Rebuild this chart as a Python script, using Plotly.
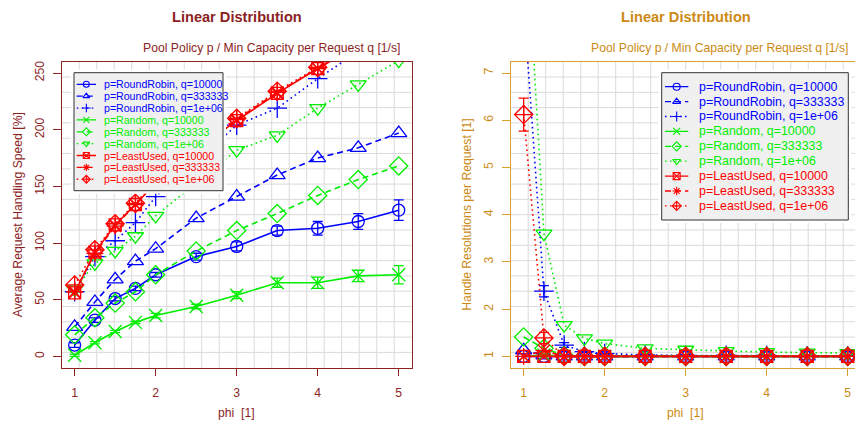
import plotly.graph_objects as go

W, H = 855, 423

# ---------------- data ----------------
phi = [1, 1.25, 1.5, 1.75, 2, 2.5, 3, 3.5, 4, 4.5, 5]
x_ticks = [1, 2, 3, 4, 5]
speed_ticks = [0, 50, 100, 150, 200, 250]
resol_ticks = [1, 2, 3, 4, 5, 6, 7]

series_names = [
    "p=RoundRobin, q=10000", "p=RoundRobin, q=333333", "p=RoundRobin, q=1e+06",
    "p=Random, q=10000", "p=Random, q=333333", "p=Random, q=1e+06",
    "p=LeastUsed, q=10000", "p=LeastUsed, q=333333", "p=LeastUsed, q=1e+06",
]

# Average Request Handling Speed [%]
speed_rr_10000 = [10, 32, 51, 60, 72, 88, 97, 111, 113, 119, 129]
speed_rr_333333 = [26, 48, 68, 84, 95, 122, 141, 160, 175, 184, 197]
speed_rr_1e6 = [57, 88, 102, 118, 141, 172, 204, 219, 245, 269, 290]
speed_rand_10000 = [1, 12, 22, 30, 36, 44, 54, 65, 65, 71, 72]
speed_rand_333333 = [19, 34, 47, 57, 72, 93, 111, 126, 142, 156, 168]
speed_rand_1e6 = [59, 82, 93, 106, 124, 153, 182, 195, 219, 240, 261]
speed_lu_10000 = [56, 92, 116, 134, 153, 182, 208, 232, 254, 275, 295]
speed_lu_333333 = [57, 91, 115, 134, 154, 183, 209, 233, 254, 276, 296]
speed_lu_1e6 = [63, 94, 117, 135, 155, 184, 210, 234, 255, 277, 297]

speed_err_rr_10000 = [2, 2, 2, 2, 2, 3, 4, 4, 6, 7, 9]
speed_err_rand_10000 = [1, 1, 1, 1, 2, 2, 3, 4, 5, 5, 8]

# Handle Resolutions per Request [1]
resol_rr_10000 = [1.0, 1.0, 1.0, 1.0, 1.0, 1.0, 1.0, 1.0, 1.0, 1.0, 1.0]
resol_rr_333333 = [1.13, 1.02, 1.0, 1.0, 1.0, 1.0, 1.0, 1.0, 1.0, 1.0, 1.0]
resol_rr_1e6 = [8.5, 2.38, 1.24, 1.1, 1.06, 1.03, 1.02, 1.02, 1.02, 1.01, 1.01]
resol_rand_10000 = [1.0, 1.03, 1.0, 1.0, 1.0, 1.0, 1.0, 1.0, 1.0, 1.0, 1.0]
resol_rand_333333 = [1.41, 1.17, 1.02, 1.0, 1.0, 1.0, 1.0, 1.0, 1.0, 1.0, 1.0]
resol_rand_1e6 = [11.0, 3.6, 1.66, 1.38, 1.27, 1.17, 1.14, 1.11, 1.09, 1.08, 1.07]
resol_lu_10000 = [1.0, 1.0, 1.0, 1.0, 1.0, 1.0, 1.0, 1.0, 1.0, 1.0, 1.0]
resol_lu_333333 = [1.0, 1.12, 1.0, 1.0, 1.0, 1.0, 1.0, 1.0, 1.0, 1.0, 1.0]
resol_lu_1e6 = [6.12, 1.39, 1.0, 1.0, 1.0, 1.0, 1.0, 1.0, 1.0, 1.0, 1.0]

resol_err_rr_1e6 = [0, 0.12, 0.05, 0.02, 0.01, 0, 0, 0, 0, 0, 0]
resol_err_lu_1e6 = [0.35, 0.12, 0, 0, 0, 0, 0, 0, 0, 0, 0]

speed_series = [speed_rr_10000, speed_rr_333333, speed_rr_1e6,
                speed_rand_10000, speed_rand_333333, speed_rand_1e6,
                speed_lu_10000, speed_lu_333333, speed_lu_1e6]
speed_errors = [speed_err_rr_10000, None, None, speed_err_rand_10000, None, None, None, None, None]
resol_series = [resol_rr_10000, resol_rr_333333, resol_rr_1e6,
                resol_rand_10000, resol_rand_333333, resol_rand_1e6,
                resol_lu_10000, resol_lu_333333, resol_lu_1e6]
resol_errors = [None, None, resol_err_rr_1e6, None, None, None, None, None, resol_err_lu_1e6]

# ---------------- styles ----------------
FONT = "Liberation Sans, Arial, Helvetica, sans-serif"
BLUE, GREEN, RED = "#0000ff", "#00ee00", "#ff0000"
colors = [BLUE] * 3 + [GREEN] * 3 + [RED] * 3
DASHED, DOTTED = "6px,4px", "1.6px,3.4px"
dashes = ["solid", DASHED, DOTTED] * 3
symbols = ["circle-open", "triangle-up-open", "cross-thin-open",
           "x-thin-open", "diamond-open", "triangle-down-open",
           "square-x-open", "asterisk-open", "diamond-cross-open"]
msizes = [12, 14, 14, 13, 14, 14, 12, 14, 14]

LCOL = "#8b2323"
RTXT = "#cc8a14"
RLINE = "#d9a02a"
GRID = "#dadada"

X_RANGE = [0.84, 5.16]
SPEED_RANGE = [-10, 260]
RESOL_RANGE = [0.76, 7.24]

# pixel geometry of the panels
PY0, PY1 = 61.7, 367.7
LX0, LX1 = 61.7, 411.7
RX0 = 510.7
RX1_FULL = RX0 + (LX1 - LX0)
RX1 = W
right_x_end = X_RANGE[0] + (RX1 - RX0) / (RX1_FULL - RX0) * (X_RANGE[1] - X_RANGE[0])


def xd(px):
    return px / W


def yd(py):
    return (H - py) / H


fig = go.Figure()

for i, name in enumerate(series_names):
    err = speed_errors[i]
    fig.add_trace(go.Scatter(
        x=phi, y=speed_series[i], mode="lines+markers", name=name, showlegend=False,
        line=dict(color=colors[i], width=1.6, dash=dashes[i]),
        marker=dict(symbol=symbols[i], size=msizes[i], color=colors[i], line=dict(width=1.3, color=colors[i])),
        error_y=dict(type="data", array=err, visible=True, color=colors[i], thickness=1.3, width=5) if err else None,
        xaxis="x", yaxis="y"))

for i, name in enumerate(series_names):
    err = resol_errors[i]
    fig.add_trace(go.Scatter(
        x=phi, y=resol_series[i], mode="lines+markers", name=name, showlegend=False,
        line=dict(color=colors[i], width=1.6, dash=dashes[i]),
        marker=dict(symbol=symbols[i], size=msizes[i], color=colors[i], line=dict(width=1.3, color=colors[i])),
        error_y=dict(type="data", array=err, visible=True, color=colors[i], thickness=1.3, width=5) if err else None,
        xaxis="x2", yaxis="y2"))

# ---------------- manual legends (R-style boxes) ----------------
annotations = []


def add_legend(xa, ya, bx0, bx1, by0, by1, first_y, step, lx0, lx1, tx, fsize, msize):
    fig.add_trace(go.Scatter(
        x=[bx0, bx1, bx1, bx0, bx0], y=[by0, by0, by1, by1, by0], mode="lines",
        fill="toself", fillcolor="#f0f0f0", line=dict(color="#333333", width=1),
        hoverinfo="skip", showlegend=False, xaxis=xa, yaxis=ya))
    for i, name in enumerate(series_names):
        yy = first_y + i * step
        fig.add_trace(go.Scatter(
            x=[lx0, lx1], y=[yy, yy], mode="lines", showlegend=False, hoverinfo="skip",
            line=dict(color=colors[i], width=1.3, dash=dashes[i]), xaxis=xa, yaxis=ya))
        fig.add_trace(go.Scatter(
            x=[(lx0 + lx1) / 2], y=[yy], mode="markers", showlegend=False, hoverinfo="skip",
            marker=dict(symbol=symbols[i], size=msize, color=colors[i], line=dict(width=1.1, color=colors[i])),
            xaxis=xa, yaxis=ya))
        annotations.append(dict(
            x=tx, y=yy, xref=xa, yref=ya, text=name, showarrow=False,
            xanchor="left", yanchor="middle", borderpad=0,
            font=dict(family=FONT, size=fsize, color=colors[i])))


add_legend("x3", "y3", 74, 223, 72.7, 190.7, 84.3, 11.87, 76.7, 96, 102.5, 10.6, 6)
add_legend("x4", "y4", 661.7, 848.3, 72.7, 220, 86.7, 14.9, 665, 688.3, 697.5, 12.4, 7)

# ---------------- grid (20 x 20 cells over each panel box) ----------------
shapes = []
ncell = 20
for k in range(1, ncell):
    xv = X_RANGE[0] + k * (X_RANGE[1] - X_RANGE[0]) / ncell
    shapes.append(dict(type="line", xref="x", yref="y domain", x0=xv, x1=xv, y0=0, y1=1,
                       layer="below", line=dict(color=GRID, width=1)))
    if xv < right_x_end:
        shapes.append(dict(type="line", xref="x2", yref="y2 domain", x0=xv, x1=xv, y0=0, y1=1,
                           layer="below", line=dict(color=GRID, width=1)))
    ys = SPEED_RANGE[0] + k * (SPEED_RANGE[1] - SPEED_RANGE[0]) / ncell
    shapes.append(dict(type="line", xref="x domain", yref="y", x0=0, x1=1, y0=ys, y1=ys,
                       layer="below", line=dict(color=GRID, width=1)))
    yr = RESOL_RANGE[0] + k * (RESOL_RANGE[1] - RESOL_RANGE[0]) / ncell
    shapes.append(dict(type="line", xref="x2 domain", yref="y2", x0=0, x1=1, y0=yr, y1=yr,
                       layer="below", line=dict(color=GRID, width=1)))

# ---------------- titles ----------------
def txt(x, y, s, color, size, bold=False, angle=0):
    annotations.append(dict(
        x=xd(x), y=yd(y), xref="paper", yref="paper", text=f"<b>{s}</b>" if bold else s,
        showarrow=False, xanchor="center", yanchor="middle", textangle=angle,
        font=dict(family=FONT, size=size, color=color)))


txt(237, 16.5, "Linear Distribution", LCOL, 14.6, bold=True)
txt(271, 47.5, "Pool Policy p / Min Capacity per Request q [1/s]", LCOL, 12.2)
txt(17.5, 214.7, "Average Request Handling Speed [%]", LCOL, 12.2, angle=-90)
txt(236.7, 412.5, "phi  [1]", LCOL, 12.2)

txt(686, 16.5, "Linear Distribution", RTXT, 14.6, bold=True)
txt(719, 47.5, "Pool Policy p / Min Capacity per Request q [1/s]", RTXT, 12.2)
txt(467, 214.7, "Handle Resolutions per Request [1]", RTXT, 12.2, angle=-90)
txt(685.3, 412.5, "phi  [1]", RTXT, 12.2)

axis_common = dict(showgrid=False, zeroline=False, ticks="outside", tickwidth=1, showline=True, linewidth=1)

fig.update_layout(
    width=W, height=H, autosize=False,
    margin=dict(l=0, r=0, t=0, b=0),
    paper_bgcolor="white", plot_bgcolor="white",
    font=dict(family=FONT, size=12),
    showlegend=False,
    xaxis=dict(domain=[xd(LX0), xd(LX1)], range=X_RANGE, tickvals=x_ticks, anchor="y",
               mirror=True, linecolor=LCOL, tickcolor=LCOL, ticklen=7, ticklabelstandoff=7,
               tickfont=dict(color=LCOL, size=12.2, family=FONT), **axis_common),
    yaxis=dict(domain=[yd(PY1), yd(PY0)], range=SPEED_RANGE, tickvals=speed_ticks, anchor="x",
               mirror=True, linecolor=LCOL, tickcolor=LCOL, ticklen=8, tickangle=-90, ticklabelstandoff=4,
               tickfont=dict(color=LCOL, size=12.2, family=FONT), **axis_common),
    xaxis2=dict(domain=[xd(RX0), 1.0], range=[X_RANGE[0], right_x_end], tickvals=x_ticks, anchor="y2",
                mirror=True, linecolor=RLINE, tickcolor=RLINE, ticklen=7, ticklabelstandoff=7,
                tickfont=dict(color=RTXT, size=12.2, family=FONT), **axis_common),
    yaxis2=dict(domain=[yd(PY1), yd(PY0)], range=RESOL_RANGE, tickvals=resol_ticks, anchor="x2",
                mirror=False, linecolor=RLINE, tickcolor=RLINE, ticklen=8, tickangle=-90, ticklabelstandoff=4,
                tickfont=dict(color=RTXT, size=12.2, family=FONT), **axis_common),
    xaxis3=dict(domain=[xd(71), xd(226)], range=[71, 226], visible=False, fixedrange=True),
    yaxis3=dict(domain=[yd(193.7), yd(69.7)], range=[193.7, 69.7], visible=False, fixedrange=True, anchor="x3"),
    xaxis4=dict(domain=[xd(658.7), xd(851.3)], range=[658.7, 851.3], visible=False, fixedrange=True),
    yaxis4=dict(domain=[yd(223), yd(69.7)], range=[223, 69.7], visible=False, fixedrange=True, anchor="x4"),
    shapes=shapes,
    annotations=annotations,
)

# remove the browser's default 8px page margin so the figure sits at the window origin
fig.write_html("out.html", config={"displayModeBar": False},
               post_script="document.body.style.margin='0';document.body.style.overflow='hidden';")
